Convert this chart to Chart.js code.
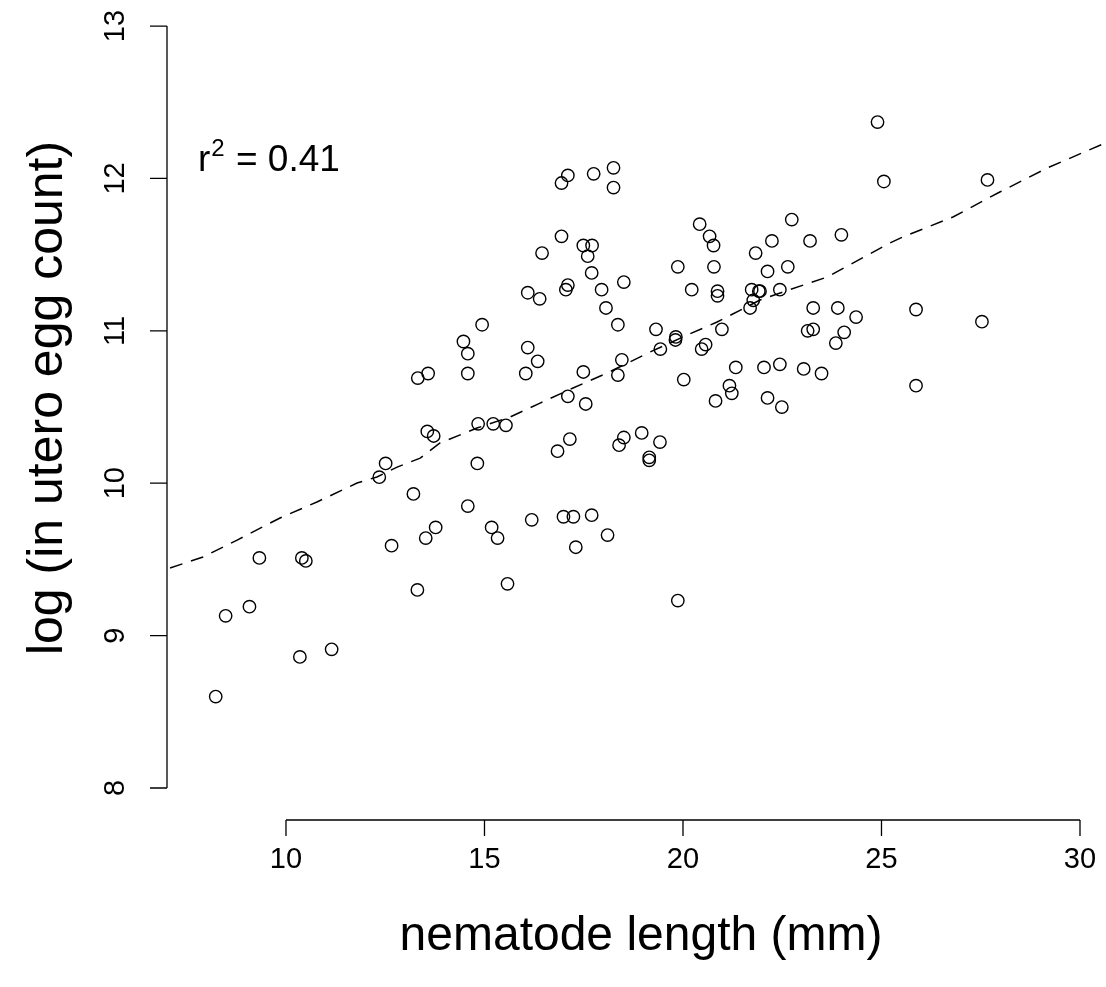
<!DOCTYPE html>
<html>
<head>
<meta charset="utf-8">
<script src="https://cdn.jsdelivr.net/npm/chart.js@4.4.0/dist/chart.umd.min.js"></script>
<style>
  body{margin:0;background:#fff;}
  #wrap{width:1106px;height:987px;position:relative;}
</style>
</head>
<body>
<div id="wrap"><canvas id="eggChart"></canvas></div>
<script>
// nematode length (mm) and log egg count
var lengthMm = [17.10,16.94,17.75,18.25,18.25,16.94,17.49,17.71,17.60,16.45,
                17.70,18.51,17.10,17.05,17.95,16.09,16.39,18.06,18.36,14.94,
                14.47,14.58,16.09,24.90,25.06,20.42,20.67,20.77,22.74,23.99,
                21.83,22.24,23.20,19.87,20.78,22.13,22.64,20.22,20.87,20.87,
                21.73,21.91,21.94,22.44,21.77,21.69,23.28,23.90,24.36,19.32,
                20.98,19.82,19.81,23.14,23.28,24.06,23.85,19.43,20.47,20.57,
                27.67,25.87,27.53,12.51,12.35,13.21,12.66,9.33,10.40,10.50,
                13.31,8.48,9.08,10.35,11.15,8.23,15.58,19.87,14.58,13.32,
                13.58,16.34,16.04,17.49,18.46,18.36,17.10,17.55,14.84,15.22,
                15.54,13.56,13.72,17.15,16.84,18.51,18.39,18.96,19.15,19.15,
                14.82,14.58,13.77,13.52,15.18,15.33,16.19,16.99,17.24,17.70,
                18.10,17.30,21.33,20.02,22.04,22.44,23.04,23.49,21.17,21.23,
                20.82,22.13,22.49,19.42,25.87];
var logEggs = [12.02,11.97,12.03,12.07,11.94,11.62,11.56,11.56,11.49,11.51,
               11.38,11.32,11.30,11.27,11.27,11.25,11.21,11.15,11.04,11.04,
               10.93,10.85,10.89,12.37,11.98,11.70,11.62,11.56,11.73,11.63,
               11.51,11.59,11.59,11.42,11.42,11.39,11.42,11.27,11.26,11.23,
               11.27,11.26,11.26,11.27,11.20,11.15,11.15,11.15,11.09,11.01,
               11.01,10.96,10.94,11.00,11.01,10.99,10.92,10.88,10.88,10.91,
               11.99,11.14,11.06,10.13,10.04,9.93,9.59,9.51,9.51,9.49,
               9.30,9.13,9.19,8.86,8.91,8.60,9.34,9.23,10.72,10.69,
               10.72,10.80,10.72,10.73,10.81,10.71,10.57,10.52,10.39,10.39,
               10.38,10.34,10.31,10.29,10.21,10.30,10.25,10.33,10.17,10.15,
               10.13,9.85,9.71,9.64,9.71,9.64,9.76,9.78,9.78,9.79,
               9.66,9.58,10.76,10.68,10.76,10.78,10.75,10.72,10.64,10.59,
               10.54,10.56,10.50,10.27,10.64];

// dashed smooth line
var fitX = [7.08,7.91,8.77,9.85,10.78,11.79,12.29,12.80,13.38,13.88,14.81,15.64,
            16.40,17.23,18.09,19.17,20.10,20.86,21.94,22.52,23.63,25.21,25.54,
            26.80,27.98,29.17,30.63];
var fitY = [9.444,9.516,9.627,9.772,9.877,10.001,10.041,10.106,10.165,10.264,10.362,10.434,
            10.526,10.625,10.723,10.861,10.972,11.058,11.202,11.255,11.353,11.576,11.616,
            11.747,11.911,12.068,12.232];

var xTicks = [10,15,20,25,30];
var yTicks = [8,9,10,11,12,13];
var xTitle = "nematode length (mm)";
var yTitle = "log (in utero egg count)";

var FONT = "'Liberation Sans', Arial, sans-serif";

drawChart();

function drawChart(){
  var pts = [];
  for(var i=0;i<lengthMm.length;i++){
    pts.push({x:lengthMm[i], y:logEggs[i]});
  }
  var fit = [];
  for(var j=0;j<fitX.length;j++){
    fit.push({x:fitX[j], y:fitY[j]});
  }

  // R style axes, drawn off the chart scales
  var rAxes = {
    id:'rAxes',
    afterDraw:function(chart){
      var c = chart.ctx;
      var xs = chart.scales.x, ys = chart.scales.y;
      var area = chart.chartArea;
      c.save();
      c.strokeStyle = '#000';
      c.fillStyle = '#000';
      c.lineWidth = 1.3;
      // x axis
      var ax = area.bottom;
      c.beginPath();
      c.moveTo(xs.getPixelForValue(xTicks[0]), ax);
      c.lineTo(xs.getPixelForValue(xTicks[xTicks.length-1]), ax);
      for(var i=0;i<xTicks.length;i++){
        var px = xs.getPixelForValue(xTicks[i]);
        c.moveTo(px, ax);
        c.lineTo(px, ax+16);
      }
      c.stroke();
      c.font = '29px ' + FONT;
      c.textAlign = 'center';
      c.textBaseline = 'middle';
      for(var i=0;i<xTicks.length;i++){
        c.fillText(String(xTicks[i]), xs.getPixelForValue(xTicks[i]), 860);
      }
      // y axis
      var ay = area.left;
      c.beginPath();
      c.moveTo(ay, ys.getPixelForValue(yTicks[0]));
      c.lineTo(ay, ys.getPixelForValue(yTicks[yTicks.length-1]));
      for(var k=0;k<yTicks.length;k++){
        var py = ys.getPixelForValue(yTicks[k]);
        c.moveTo(ay, py);
        c.lineTo(ay-17, py);
      }
      c.stroke();
      for(var k=0;k<yTicks.length;k++){
        c.save();
        c.translate(116, ys.getPixelForValue(yTicks[k]));
        c.rotate(-Math.PI/2);
        c.fillText(String(yTicks[k]), 0, 0);
        c.restore();
      }
      // titles
      c.font = '48px ' + FONT;
      c.fillText(xTitle, 641, 937);
      c.save();
      c.translate(48, 398);
      c.rotate(-Math.PI/2);
      c.font = '50px ' + FONT;
      c.fillText(yTitle, 0, 0);
      c.restore();
      // r squared note
      c.textAlign = 'left';
      c.textBaseline = 'alphabetic';
      c.font = '37px ' + FONT;
      c.fillText('r', 198, 171);
      var rw = c.measureText('r').width;
      c.font = '24px ' + FONT;
      c.fillText('2', 198+rw+1, 156);
      var sw = c.measureText('2').width;
      c.font = '37px ' + FONT;
      c.fillText(' = 0.41', 198+rw+sw+2, 171);
      c.restore();
    }
  };//end rAxes

  var ctx = document.getElementById('eggChart');
  var chart = new Chart(ctx,{
    type:'scatter',
    data:{
      datasets:[{
        label:'eggs',
        data:pts,
        pointStyle:'circle',
        pointRadius:6.2,
        pointBorderWidth:1.4,
        borderColor:'#000',
        backgroundColor:'rgba(0,0,0,0)',
        order:1
      },{
        label:'fit',
        type:'line',
        data:fit,
        showLine:true,
        pointRadius:0,
        borderColor:'#000',
        borderWidth:1.5,
        borderDash:[13,9],
        fill:false,
        tension:0,
        order:2
      }]
    },
    options:{
      responsive:true,
      maintainAspectRatio:false,
      animation:false,
      events:[],
      layout:{autoPadding:false, padding:{left:167,right:0,top:0,bottom:167}},
      scales:{
        x:{type:'linear', min:7.003, max:30.655, display:false},
        y:{type:'linear', min:7.79, max:13.171, display:false}
      },
      plugins:{
        legend:{display:false},
        tooltip:{enabled:false}
      }
    },
    plugins:[rAxes]
  });
}//end drawChart
</script>
</body>
</html>
